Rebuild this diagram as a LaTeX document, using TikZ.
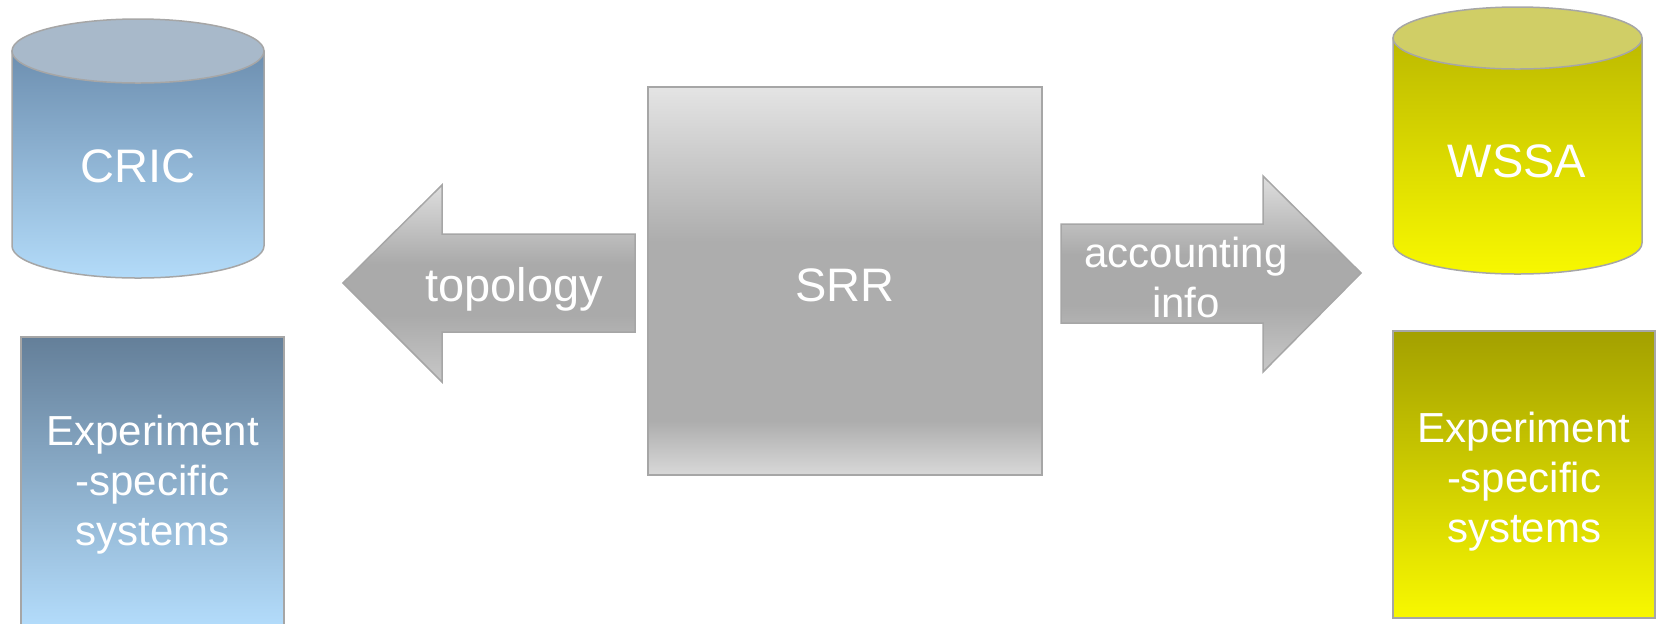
\documentclass[tikz,border=0pt]{standalone}
\usepackage{fontspec}
\setmainfont{Liberation Sans}
\usepackage{xcolor}
\usetikzlibrary{positioning, calc}

\definecolor{frameGrey}{HTML}{A6A6A6}
\definecolor{cricBodyT}{HTML}{6D8FB0}
\definecolor{cricBodyB}{HTML}{B3DBF9}
\definecolor{cricCap}{HTML}{A8B9CA}
\definecolor{expLTop}{HTML}{647F99}
\definecolor{expLBot}{HTML}{B4DDFC}
\definecolor{wssaBodyT}{HTML}{BDBA00}
\definecolor{wssaBodyB}{HTML}{F8F800}
\definecolor{wssaCap}{HTML}{D0CE66}
\definecolor{expRTop}{HTML}{A3A000}
\definecolor{expRBot}{HTML}{F8F800}
\definecolor{srrT}{HTML}{E4E4E4}
\definecolor{srrM}{HTML}{ADADAD}
\definecolor{srrB}{HTML}{C6C6C6}
\definecolor{srrC}{HTML}{D8D8D8}
\definecolor{arrT}{HTML}{DEDEDE}
\definecolor{arrM}{HTML}{AAAAAA}
\definecolor{arrB}{HTML}{C8C8C8}

\pgfdeclareverticalshading{srrgrey}{100bp}{color(0bp)=(srrC); color(25bp)=(srrC); color(28bp)=(srrB); color(32bp)=(srrM); color(55bp)=(srrM); color(75bp)=(srrT); color(100bp)=(srrT)}
\pgfdeclareverticalshading{arrowgrey}{100bp}{color(0bp)=(arrB); color(25bp)=(arrB); color(42bp)=(arrM); color(55bp)=(arrM); color(75bp)=(arrT); color(100bp)=(arrT)}

\begin{document}
\begin{tikzpicture}[
        x=0.5pt, y=-0.5pt,
        edge/.style={draw=frameGrey, line width=0.75pt},
        bigtxt/.style={text=white, font=\fontsize{23.5}{28}\selectfont},
        smalltxt/.style={text=white, font=\fontsize{21}{25}\selectfont, align=center},
        sysbox/.style={rectangle, edge, inner sep=0pt},
        blockarrow/.style={edge, shade, shading=arrowgrey}
    ]

    \clip (0,0) rectangle (1660,623);

    \path [edge, top color=cricBodyT, bottom color=cricBodyB] (12,51) -- (12,246) arc [start angle=180, end angle=0, x radius=126, y radius=32] -- (264,51) -- cycle;
    \path [edge, fill=cricCap] (138,51) ellipse [x radius=126, y radius=32];
    \node [bigtxt] (cric) at (138,166) {CRIC};

    \node [sysbox, top color=expLTop, bottom color=expLBot, minimum width=131.5pt, minimum height=146pt] (expL) at (152.5,483) {};
    \node [smalltxt] (expLtext) at (152.5,485) {Experiment\\-specific\\systems};

    \node [rectangle, edge, shade, shading=srrgrey, minimum width=197pt, minimum height=194pt, bigtxt, text height=20.3pt] (srr) at (845,281) {SRR};

    \path [blockarrow] (343,283) -- (442,185) -- (442,234) -- (635,234) -- (635,332) -- (442,332) -- (442,382) -- cycle;
    \node [bigtxt] (topo) at (514,289) {topology};

    \path [blockarrow] (1361,273) -- (1263,176) -- (1263,224) -- (1061,224) -- (1061,323) -- (1263,323) -- (1263,372) -- cycle;
    \node [smalltxt] (acct) at (1186,277) {accounting\\info};

    \path [edge, top color=wssaBodyT, bottom color=wssaBodyB] (1393,38) -- (1393,243) arc [start angle=180, end angle=0, x radius=124.5, y radius=31] -- (1642,38) -- cycle;
    \path [edge, fill=wssaCap] (1517.5,38) ellipse [x radius=124.5, y radius=31];
    \node [bigtxt] (wssa) at (1517,161) {WSSA};

    \node [sysbox, top color=expRTop, bottom color=expRBot, minimum width=131pt, minimum height=143.5pt] (expR) at (1524,474.5) {};
    \node [smalltxt] (expRtext) at (1524,482) {Experiment\\-specific\\systems};

\end{tikzpicture}
\end{document}
